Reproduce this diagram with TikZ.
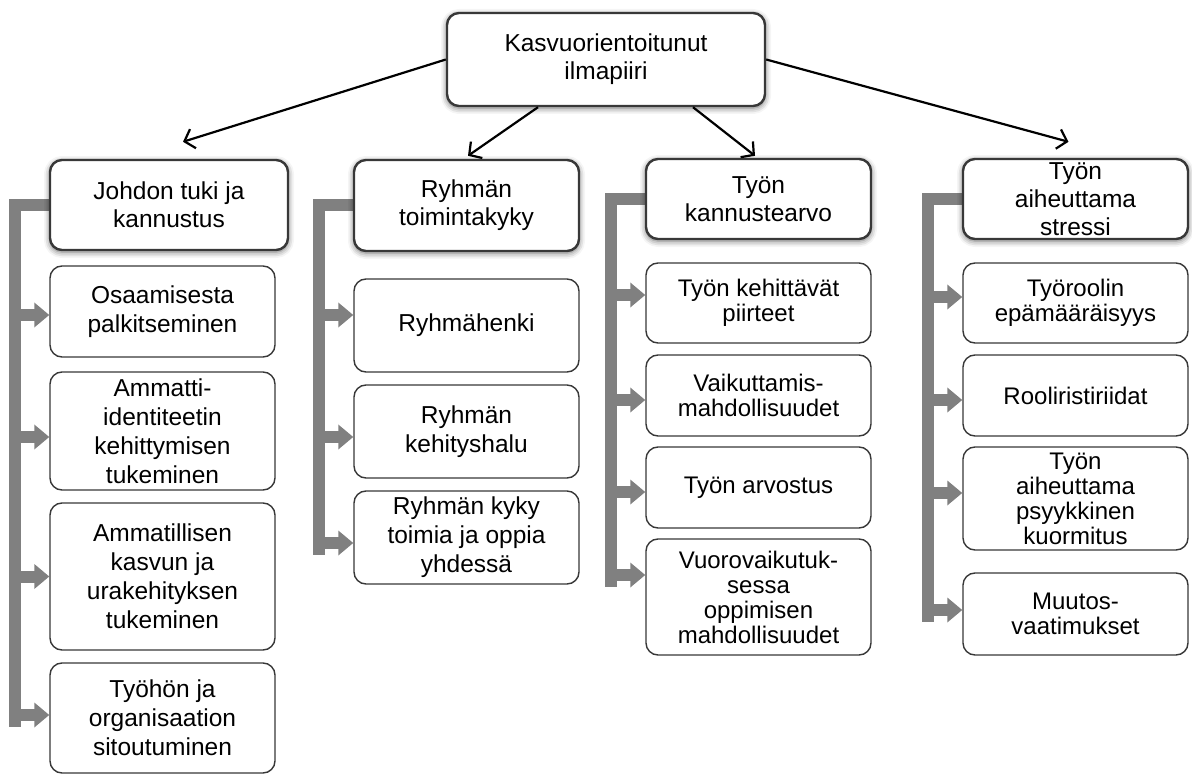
\documentclass[tikz,border=0pt]{standalone}
\usepackage{fontspec}
\setmainfont{Liberation Sans}
\usetikzlibrary{positioning,shapes,arrows.meta,shadows.blur,backgrounds}

\definecolor{bargray}{RGB}{128,128,128}
\definecolor{edgegray}{RGB}{56,56,56}

\begin{document}
\begin{tikzpicture}
  [x=1pt,y=-1pt,
   rootbox/.style={draw=edgegray, line width=2.4pt, rounded corners=12pt, fill=white, align=center, inner ysep=1pt,
     blur shadow={shadow xshift=0pt, shadow yshift=-2pt, shadow blur radius=6pt, shadow opacity=60},
     font=\fontsize{24.5}{28}\selectfont, minimum width=318pt, minimum height=93pt},
   headbox/.style={rootbox, minimum width=225pt, minimum height=80pt},
   itembox/.style={draw=edgegray, line width=1.4pt, rounded corners=12pt, fill=white, align=center, inner ysep=1pt,
     minimum width=225pt, font=\fontsize{24.5}{29}\selectfont},
   tightbox/.style={itembox, font=\fontsize{24}{25}\selectfont},
   graybar/.style={draw=bargray, line width=12pt},
   grayarrow/.style={graybar, -{Triangle[length=15pt,width=24pt]}},
   blackarrow/.style={draw=black, line width=2.2pt, -{Straight Barb[length=9pt,width=20pt]}}]
  \useasboundingbox (0,0) rectangle (1192,778);

  \node[rootbox] (root) at (606,59.5) {Kasvuorientoitunut\\ilmapiiri};

  \node[headbox, minimum width=238pt, minimum height=90pt] (h1) at (169,205) {Johdon tuki ja\\kannustus};
  \node[headbox, minimum height=91pt] (h2) at (466.5,205.5) {Ryhmän\\toimintakyky};
  \node[headbox] (h3) at (758.5,199) {Työn\\kannustearvo};
  \node[headbox] (h4) at (1075.5,199) {Työn\\aiheuttama\\stressi};

  % first column
  \node[itembox, minimum height=91pt] (c11) at (162.5,311.5) {Osaamisesta\\palkitseminen};
  \node[itembox, minimum height=118pt] (c12) at (162.5,431) {Ammatti-\\identiteetin\\kehittymisen\\tukeminen};
  \node[itembox, minimum height=147pt] (c13) at (162.5,576.5) {Ammatillisen\\kasvun ja\\urakehityksen\\tukeminen};
  \node[itembox, minimum height=110pt] (c14) at (162.5,718) {Työhön ja\\organisaation\\sitoutuminen};

  % second column
  \node[itembox, minimum height=93pt] (c21) at (466.5,325.5) {Ryhmähenki};
  \node[itembox, minimum height=93pt] (c22) at (466.5,431.5) {Ryhmän\\kehityshalu};
  \node[itembox, minimum height=93pt] (c23) at (466.5,537.5) {Ryhmän kyky\\toimia ja oppia\\yhdessä};

  % third column
  \node[tightbox, minimum height=80pt] (c31) at (758.5,303) {Työn kehittävät\\piirteet};
  \node[tightbox, minimum height=81pt] (c32) at (758.5,395.5) {Vaikuttamis-\\mahdollisuudet};
  \node[tightbox, minimum height=81pt] (c33) at (758.5,487.5) {Työn arvostus};
  \node[tightbox, minimum height=116pt] (c34) at (758.5,597) {Vuorovaikutuk-\\sessa\\oppimisen\\mahdollisuudet};

  % fourth column
  \node[tightbox, minimum height=80pt] (c41) at (1075.5,303) {Työroolin\\epämääräisyys};
  \node[tightbox, minimum height=81pt] (c42) at (1075.5,395.5) {Rooliristiriidat};
  \node[tightbox, minimum height=103pt] (c43) at (1075.5,498.5) {Työn\\aiheuttama\\psyykkinen\\kuormitus};
  \node[tightbox, minimum height=82pt] (c44) at (1075.5,614) {Muutos-\\vaatimukset};

  \draw[blackarrow] (root.west) -- ([xshift=14pt,yshift=17pt]h1.north);
  \draw[blackarrow] ([xshift=-68pt]root.south) -- ([xshift=1.5pt,yshift=3pt]h2.north);
  \draw[blackarrow] ([xshift=87pt]root.south) -- ([xshift=-3.5pt,yshift=2pt]h3.north);
  \draw[blackarrow] (root.east) -- ([xshift=-7pt,yshift=16pt]h4.north);

  \begin{scope}[on background layer]
    \foreach \h/\c/\s in {h1/c14/-9, h2/c23/-17.5, h3/c34/10, h4/c44/-8}
      \draw[graybar] (\h.west) -| ([xshift=-34pt,yshift=\s pt]\c.west);
    \foreach \h/\c/\s in {h1/c11/-3.5, h1/c12/-6, h1/c13/0, h1/c14/3,
                          h2/c21/10.5, h2/c22/-5.5, h2/c23/-5.5,
                          h3/c31/8, h3/c32/-4.5, h3/c33/-4.5, h3/c34/22,
                          h4/c41/6, h4/c42/-4.5, h4/c43/5.5, h4/c44/4}
      \draw[grayarrow] (\h.west) -| ([xshift=-34pt,yshift=\s pt]\c.west) -- ([yshift=\s pt]\c.west);
  \end{scope}
\end{tikzpicture}
\end{document}
